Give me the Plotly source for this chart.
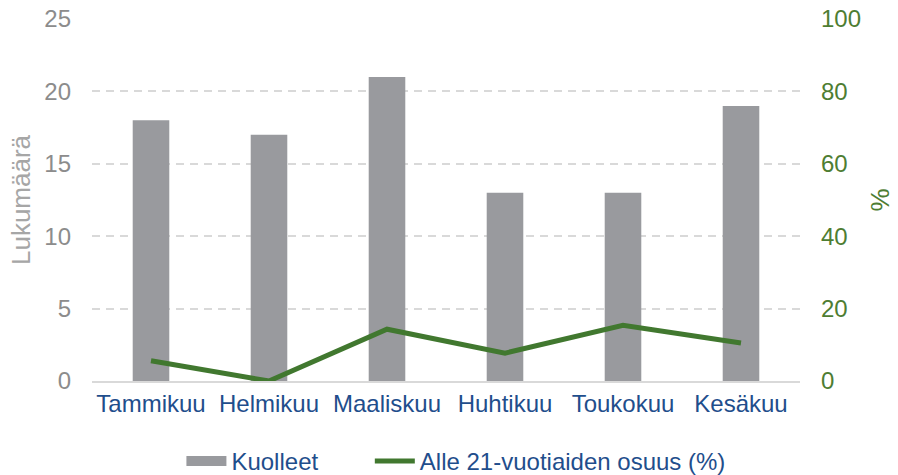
import plotly.graph_objects as go

months = ["Tammikuu", "Helmikuu", "Maaliskuu", "Huhtikuu", "Toukokuu", "Kesäkuu"]
deaths = [18, 17, 21, 13, 13, 19]
share_under21 = [5.6, 0.0, 14.3, 7.7, 15.4, 10.5]
left_ticks = [0, 5, 10, 15, 20, 25]
right_ticks = [0, 20, 40, 60, 80, 100]

FONT = "Liberation Sans, Arial, sans-serif"
BAR_C = "#999A9E"
LINE_C = "#41782F"
NB = "\u00a0"
fig = go.Figure()
fig.add_trace(go.Bar(x=months, y=deaths, name="Kuolleet", marker_color=BAR_C,
                     marker_line_width=0, yaxis="y", showlegend=False))
# legend entry for bars drawn as a thick gray band
fig.add_trace(go.Scatter(x=[None], y=[None], name="Kuolleet" + NB * 7, mode="lines",
                         line=dict(color=BAR_C, width=10), yaxis="y"))
fig.add_trace(go.Scatter(x=months, y=share_under21, name="Alle 21-vuotiaiden osuus (%)",
                         mode="lines", line=dict(color=LINE_C, width=5), yaxis="y2"))

fig.update_layout(
    width=898, height=475,
    margin=dict(l=92, r=98, t=19, b=94, autoexpand=False),
    plot_bgcolor="white", paper_bgcolor="white",
    font=dict(family=FONT, size=24),
    bargap=0.69,
    showlegend=True,
    legend=dict(orientation="h", x=0.514, xanchor="center", y=-0.16, yanchor="top",
                font=dict(color="#1F4E8C", size=24), itemwidth=40, tracegroupgap=0),
    xaxis=dict(tickfont=dict(color="#1F4E8C", size=24), showgrid=False, automargin=False,
               showline=True, linecolor="#D9D9D9", linewidth=2, ticks=""),
    yaxis=dict(range=[0, 25], tickvals=left_ticks, tickfont=dict(color="#8C8C8C", size=24),
               title=dict(text="Lukumäärä", font=dict(color="#A6A6A6", size=26), standoff=6),
               showgrid=True, gridcolor="#D9D9D9", gridwidth=2, griddash="8px,6px",
               zeroline=False, showline=False, ticks="", ticklabelstandoff=20, automargin=False),
    yaxis2=dict(range=[0, 100], tickvals=right_ticks, overlaying="y", side="right",
                tickfont=dict(color="#4E7D32", size=24),
                title=dict(text="%", font=dict(color="#4E7D32", size=26), standoff=10),
                showgrid=False, zeroline=False, showline=False, ticks="", ticklabelstandoff=20,
                automargin=False),
)
fig.write_html("out.html", config={"displayModeBar": False},
               post_script="document.body.style.margin='0';document.body.style.padding='0';")
